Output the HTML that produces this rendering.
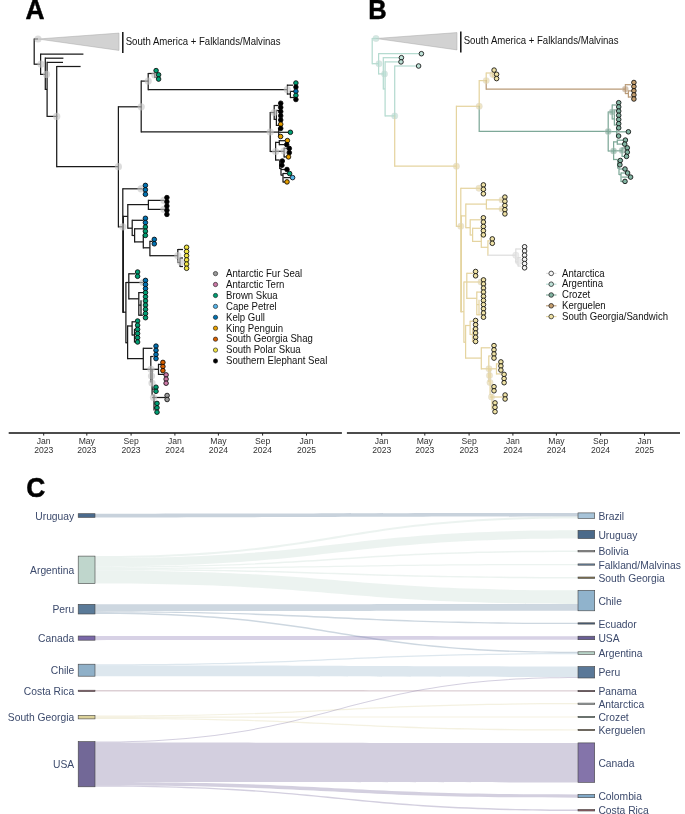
<!DOCTYPE html>
<html><head><meta charset="utf-8">
<style>
html,body{margin:0;padding:0;background:#fff;}
body{width:685px;height:814px;overflow:hidden;}
svg{display:block;will-change:transform;}
text{font-family:"Liberation Sans",sans-serif;}
.ax{font-size:8.6px;fill:#333;text-anchor:middle;}
.lg{font-size:9.6px;fill:#111;}
.sk{font-size:10.3px;fill:#3c4a6c;}
.pl{font-size:25.5px;font-weight:bold;fill:#000;stroke:#000;stroke-width:0.45px;}
.clade{font-size:9.6px;fill:#111;}
</style></head>
<body>
<svg width="685" height="814" viewBox="0 0 685 814">
<text transform="translate(25.6,18.7) scale(1.033,1.08)" class="pl">A</text>
<text transform="translate(368.15,18.7) scale(1.0,1.08)" class="pl">B</text>
<text transform="translate(26.3,497.0) scale(1.034,1.097)" class="pl">C</text>
<g stroke-linecap="butt">
<polygon points="38,39 119,33.1 119,50.4" fill="#d2d2d2" stroke="#a8a8a8" stroke-width="0.5"/>
<line x1="122.8" y1="32" x2="122.8" y2="53" stroke="#111" stroke-width="1.5"/>
<line x1="34.2" y1="38.38" x2="34.2" y2="64.82" stroke="#1a1a1a" stroke-width="1.25"/>
<line x1="34.2" y1="39.00" x2="38.0" y2="39.00" stroke="#1a1a1a" stroke-width="1.25"/>
<line x1="34.2" y1="64.20" x2="40.6" y2="64.20" stroke="#1a1a1a" stroke-width="1.25"/>
<line x1="40.6" y1="53.58" x2="40.6" y2="75.02" stroke="#1a1a1a" stroke-width="1.25"/>
<line x1="40.6" y1="54.20" x2="83.4" y2="54.20" stroke="#1a1a1a" stroke-width="1.25"/>
<line x1="40.6" y1="74.40" x2="45.3" y2="74.40" stroke="#1a1a1a" stroke-width="1.25"/>
<line x1="45.3" y1="57.58" x2="45.3" y2="90.02" stroke="#1a1a1a" stroke-width="1.25"/>
<line x1="45.3" y1="58.20" x2="63.4" y2="58.20" stroke="#1a1a1a" stroke-width="1.25"/>
<line x1="45.3" y1="89.40" x2="47.1" y2="89.40" stroke="#1a1a1a" stroke-width="1.25"/>
<line x1="47.1" y1="61.78" x2="47.1" y2="117.02" stroke="#1a1a1a" stroke-width="1.25"/>
<line x1="47.1" y1="62.40" x2="63.0" y2="62.40" stroke="#1a1a1a" stroke-width="1.25"/>
<line x1="47.1" y1="116.40" x2="56.7" y2="116.40" stroke="#1a1a1a" stroke-width="1.25"/>
<line x1="56.7" y1="65.88" x2="56.7" y2="117.02" stroke="#1a1a1a" stroke-width="1.25"/>
<line x1="56.7" y1="115.78" x2="56.7" y2="167.32" stroke="#1a1a1a" stroke-width="1.25"/>
<line x1="56.7" y1="66.50" x2="80.6" y2="66.50" stroke="#1a1a1a" stroke-width="1.25"/>
<line x1="56.7" y1="166.70" x2="118.4" y2="166.70" stroke="#1a1a1a" stroke-width="1.25"/>
<line x1="118.4" y1="106.18" x2="118.4" y2="167.32" stroke="#1a1a1a" stroke-width="1.25"/>
<line x1="118.4" y1="166.08" x2="118.4" y2="227.42" stroke="#1a1a1a" stroke-width="1.25"/>
<line x1="118.4" y1="106.80" x2="141.2" y2="106.80" stroke="#1a1a1a" stroke-width="1.25"/>
<line x1="118.4" y1="226.80" x2="122.8" y2="226.80" stroke="#1a1a1a" stroke-width="1.25"/>
<line x1="141.2" y1="80.48" x2="141.2" y2="107.42" stroke="#1a1a1a" stroke-width="1.25"/>
<line x1="141.2" y1="106.18" x2="141.2" y2="132.52" stroke="#1a1a1a" stroke-width="1.25"/>
<line x1="141.2" y1="81.10" x2="148.2" y2="81.10" stroke="#1a1a1a" stroke-width="1.25"/>
<line x1="141.2" y1="131.90" x2="270.1" y2="131.90" stroke="#1a1a1a" stroke-width="1.25"/>
<line x1="148.2" y1="72.88" x2="148.2" y2="81.72" stroke="#1a1a1a" stroke-width="1.25"/>
<line x1="148.2" y1="80.48" x2="148.2" y2="90.22" stroke="#1a1a1a" stroke-width="1.25"/>
<line x1="148.2" y1="73.50" x2="154.8" y2="73.50" stroke="#1a1a1a" stroke-width="1.25"/>
<line x1="148.2" y1="89.60" x2="287.3" y2="89.60" stroke="#1a1a1a" stroke-width="1.25"/>
<line x1="154.8" y1="72.88" x2="154.8" y2="77.92" stroke="#1a1a1a" stroke-width="1.25"/>
<line x1="154.8" y1="77.30" x2="157.0" y2="77.30" stroke="#1a1a1a" stroke-width="1.25"/>
<line x1="287.4" y1="84.58" x2="287.4" y2="94.62" stroke="#1a1a1a" stroke-width="1.25"/>
<line x1="287.4" y1="85.20" x2="293.0" y2="85.20" stroke="#1a1a1a" stroke-width="1.25"/>
<line x1="287.4" y1="94.00" x2="290.4" y2="94.00" stroke="#1a1a1a" stroke-width="1.25"/>
<line x1="290.4" y1="90.78" x2="290.4" y2="98.12" stroke="#1a1a1a" stroke-width="1.25"/>
<line x1="290.4" y1="91.40" x2="294.0" y2="91.40" stroke="#1a1a1a" stroke-width="1.25"/>
<line x1="290.4" y1="97.50" x2="294.0" y2="97.50" stroke="#1a1a1a" stroke-width="1.25"/>
<line x1="270.2" y1="111.88" x2="270.2" y2="152.12" stroke="#1a1a1a" stroke-width="1.25"/>
<line x1="270.2" y1="112.50" x2="274.2" y2="112.50" stroke="#1a1a1a" stroke-width="1.25"/>
<line x1="274.2" y1="104.88" x2="274.2" y2="120.02" stroke="#1a1a1a" stroke-width="1.25"/>
<line x1="274.2" y1="105.50" x2="278.5" y2="105.50" stroke="#1a1a1a" stroke-width="1.25"/>
<line x1="274.2" y1="119.40" x2="276.4" y2="119.40" stroke="#1a1a1a" stroke-width="1.25"/>
<line x1="276.4" y1="109.88" x2="276.4" y2="126.02" stroke="#1a1a1a" stroke-width="1.25"/>
<line x1="276.4" y1="110.50" x2="279.0" y2="110.50" stroke="#1a1a1a" stroke-width="1.25"/>
<line x1="276.4" y1="125.40" x2="279.0" y2="125.40" stroke="#1a1a1a" stroke-width="1.25"/>
<line x1="270.2" y1="132.10" x2="278.7" y2="132.10" stroke="#1a1a1a" stroke-width="1.25"/>
<line x1="278.7" y1="127.88" x2="278.7" y2="136.92" stroke="#1a1a1a" stroke-width="1.25"/>
<line x1="278.7" y1="132.30" x2="288.5" y2="132.30" stroke="#1a1a1a" stroke-width="1.25"/>
<line x1="270.2" y1="151.50" x2="275.6" y2="151.50" stroke="#1a1a1a" stroke-width="1.25"/>
<line x1="275.6" y1="141.78" x2="275.6" y2="160.62" stroke="#1a1a1a" stroke-width="1.25"/>
<line x1="275.6" y1="142.40" x2="279.3" y2="142.40" stroke="#1a1a1a" stroke-width="1.25"/>
<line x1="279.3" y1="140.08" x2="279.3" y2="145.22" stroke="#1a1a1a" stroke-width="1.25"/>
<line x1="279.3" y1="140.70" x2="285.0" y2="140.70" stroke="#1a1a1a" stroke-width="1.25"/>
<line x1="279.3" y1="144.60" x2="284.5" y2="144.60" stroke="#1a1a1a" stroke-width="1.25"/>
<line x1="275.6" y1="151.30" x2="284.1" y2="151.30" stroke="#1a1a1a" stroke-width="1.25"/>
<line x1="284.1" y1="147.78" x2="284.1" y2="157.52" stroke="#1a1a1a" stroke-width="1.25"/>
<line x1="284.1" y1="148.40" x2="287.0" y2="148.40" stroke="#1a1a1a" stroke-width="1.25"/>
<line x1="284.1" y1="156.90" x2="286.5" y2="156.90" stroke="#1a1a1a" stroke-width="1.25"/>
<line x1="275.6" y1="160.00" x2="279.7" y2="160.00" stroke="#1a1a1a" stroke-width="1.25"/>
<line x1="279.7" y1="160.38" x2="279.7" y2="169.12" stroke="#1a1a1a" stroke-width="1.25"/>
<line x1="279.7" y1="168.50" x2="281.0" y2="168.50" stroke="#1a1a1a" stroke-width="1.25"/>
<line x1="281.0" y1="167.88" x2="281.0" y2="175.62" stroke="#1a1a1a" stroke-width="1.25"/>
<line x1="281.0" y1="169.50" x2="285.0" y2="169.50" stroke="#1a1a1a" stroke-width="1.25"/>
<line x1="281.0" y1="175.00" x2="283.0" y2="175.00" stroke="#1a1a1a" stroke-width="1.25"/>
<line x1="283.0" y1="172.88" x2="283.0" y2="182.62" stroke="#1a1a1a" stroke-width="1.25"/>
<line x1="283.0" y1="173.50" x2="287.5" y2="173.50" stroke="#1a1a1a" stroke-width="1.25"/>
<line x1="283.5" y1="177.60" x2="290.5" y2="177.60" stroke="#1a1a1a" stroke-width="1.25"/>
<line x1="283.0" y1="182.00" x2="285.5" y2="182.00" stroke="#1a1a1a" stroke-width="1.25"/>
<line x1="122.8" y1="188.18" x2="122.8" y2="312.82" stroke="#1a1a1a" stroke-width="1.25"/>
<line x1="123.4" y1="215.78" x2="123.4" y2="312.82" stroke="#1a1a1a" stroke-width="1.25"/>
<line x1="122.8" y1="188.80" x2="142.6" y2="188.80" stroke="#1a1a1a" stroke-width="1.25"/>
<line x1="122.8" y1="216.40" x2="127.8" y2="216.40" stroke="#1a1a1a" stroke-width="1.25"/>
<line x1="127.8" y1="203.98" x2="127.8" y2="228.82" stroke="#1a1a1a" stroke-width="1.25"/>
<line x1="127.8" y1="204.60" x2="148.4" y2="204.60" stroke="#1a1a1a" stroke-width="1.25"/>
<line x1="148.4" y1="199.78" x2="148.4" y2="210.02" stroke="#1a1a1a" stroke-width="1.25"/>
<line x1="148.4" y1="200.40" x2="164.5" y2="200.40" stroke="#1a1a1a" stroke-width="1.25"/>
<line x1="148.4" y1="209.40" x2="164.5" y2="209.40" stroke="#1a1a1a" stroke-width="1.25"/>
<line x1="127.8" y1="228.20" x2="132.2" y2="228.20" stroke="#1a1a1a" stroke-width="1.25"/>
<line x1="132.2" y1="219.68" x2="132.2" y2="236.12" stroke="#1a1a1a" stroke-width="1.25"/>
<line x1="132.2" y1="220.30" x2="143.5" y2="220.30" stroke="#1a1a1a" stroke-width="1.25"/>
<line x1="132.2" y1="235.50" x2="134.6" y2="235.50" stroke="#1a1a1a" stroke-width="1.25"/>
<line x1="134.6" y1="228.18" x2="134.6" y2="242.52" stroke="#1a1a1a" stroke-width="1.25"/>
<line x1="134.6" y1="228.80" x2="143.5" y2="228.80" stroke="#1a1a1a" stroke-width="1.25"/>
<line x1="134.6" y1="241.90" x2="143.3" y2="241.90" stroke="#1a1a1a" stroke-width="1.25"/>
<line x1="143.3" y1="234.38" x2="143.3" y2="248.42" stroke="#1a1a1a" stroke-width="1.25"/>
<line x1="143.3" y1="247.80" x2="149.9" y2="247.80" stroke="#1a1a1a" stroke-width="1.25"/>
<line x1="149.9" y1="240.78" x2="149.9" y2="256.32" stroke="#1a1a1a" stroke-width="1.25"/>
<line x1="149.9" y1="241.40" x2="152.5" y2="241.40" stroke="#1a1a1a" stroke-width="1.25"/>
<line x1="149.9" y1="255.70" x2="177.8" y2="255.70" stroke="#1a1a1a" stroke-width="1.25"/>
<line x1="177.8" y1="248.88" x2="177.8" y2="263.12" stroke="#1a1a1a" stroke-width="1.25"/>
<line x1="177.8" y1="249.50" x2="183.0" y2="249.50" stroke="#1a1a1a" stroke-width="1.25"/>
<line x1="177.8" y1="262.50" x2="180.0" y2="262.50" stroke="#1a1a1a" stroke-width="1.25"/>
<line x1="180.0" y1="257.38" x2="180.0" y2="267.12" stroke="#1a1a1a" stroke-width="1.25"/>
<line x1="180.0" y1="258.00" x2="183.0" y2="258.00" stroke="#1a1a1a" stroke-width="1.25"/>
<line x1="180.0" y1="266.50" x2="183.0" y2="266.50" stroke="#1a1a1a" stroke-width="1.25"/>
<line x1="122.8" y1="312.20" x2="125.9" y2="312.20" stroke="#1a1a1a" stroke-width="1.25"/>
<line x1="125.9" y1="281.88" x2="125.9" y2="343.32" stroke="#1a1a1a" stroke-width="1.25"/>
<line x1="125.9" y1="282.50" x2="128.8" y2="282.50" stroke="#1a1a1a" stroke-width="1.25"/>
<line x1="128.8" y1="273.18" x2="128.8" y2="299.42" stroke="#1a1a1a" stroke-width="1.25"/>
<line x1="128.8" y1="273.80" x2="135.2" y2="273.80" stroke="#1a1a1a" stroke-width="1.25"/>
<line x1="128.8" y1="282.50" x2="143.0" y2="282.50" stroke="#1a1a1a" stroke-width="1.25"/>
<line x1="128.8" y1="298.80" x2="138.8" y2="298.80" stroke="#1a1a1a" stroke-width="1.25"/>
<line x1="138.8" y1="291.98" x2="138.8" y2="315.82" stroke="#1a1a1a" stroke-width="1.25"/>
<line x1="138.8" y1="292.60" x2="143.5" y2="292.60" stroke="#1a1a1a" stroke-width="1.25"/>
<line x1="138.8" y1="305.10" x2="141.0" y2="305.10" stroke="#1a1a1a" stroke-width="1.25"/>
<line x1="141.0" y1="300.28" x2="141.0" y2="315.82" stroke="#1a1a1a" stroke-width="1.25"/>
<line x1="138.8" y1="315.20" x2="143.0" y2="315.20" stroke="#1a1a1a" stroke-width="1.25"/>
<line x1="125.9" y1="342.70" x2="127.6" y2="342.70" stroke="#1a1a1a" stroke-width="1.25"/>
<line x1="127.6" y1="325.38" x2="127.6" y2="359.22" stroke="#1a1a1a" stroke-width="1.25"/>
<line x1="127.6" y1="326.00" x2="132.1" y2="326.00" stroke="#1a1a1a" stroke-width="1.25"/>
<line x1="132.1" y1="321.18" x2="132.1" y2="335.62" stroke="#1a1a1a" stroke-width="1.25"/>
<line x1="132.1" y1="321.80" x2="135.0" y2="321.80" stroke="#1a1a1a" stroke-width="1.25"/>
<line x1="132.1" y1="335.00" x2="134.5" y2="335.00" stroke="#1a1a1a" stroke-width="1.25"/>
<line x1="134.5" y1="328.78" x2="134.5" y2="342.62" stroke="#1a1a1a" stroke-width="1.25"/>
<line x1="127.6" y1="358.60" x2="143.3" y2="358.60" stroke="#1a1a1a" stroke-width="1.25"/>
<line x1="143.3" y1="347.68" x2="143.3" y2="369.92" stroke="#1a1a1a" stroke-width="1.25"/>
<line x1="143.3" y1="348.30" x2="152.5" y2="348.30" stroke="#1a1a1a" stroke-width="1.25"/>
<line x1="150.8" y1="356.50" x2="153.5" y2="356.50" stroke="#1a1a1a" stroke-width="1.25"/>
<line x1="150.8" y1="355.88" x2="150.8" y2="382.62" stroke="#1a1a1a" stroke-width="1.25"/>
<line x1="143.3" y1="369.30" x2="158.5" y2="369.30" stroke="#1a1a1a" stroke-width="1.25"/>
<line x1="158.5" y1="363.78" x2="158.5" y2="375.02" stroke="#1a1a1a" stroke-width="1.25"/>
<line x1="158.5" y1="364.40" x2="161.0" y2="364.40" stroke="#1a1a1a" stroke-width="1.25"/>
<line x1="158.5" y1="374.40" x2="164.0" y2="374.40" stroke="#1a1a1a" stroke-width="1.25"/>
<line x1="152.1" y1="368.88" x2="152.1" y2="395.62" stroke="#1a1a1a" stroke-width="1.25"/>
<line x1="152.1" y1="389.00" x2="154.0" y2="389.00" stroke="#1a1a1a" stroke-width="1.25"/>
<line x1="152.1" y1="397.50" x2="165.0" y2="397.50" stroke="#1a1a1a" stroke-width="1.25"/>
<line x1="154.0" y1="394.38" x2="154.0" y2="410.62" stroke="#1a1a1a" stroke-width="1.25"/>
<line x1="154.0" y1="407.80" x2="155.0" y2="407.80" stroke="#1a1a1a" stroke-width="1.25"/>
<circle cx="38.0" cy="39.0" r="3.6" fill="#c4c4c4" fill-opacity="0.6"/>
<circle cx="41.0" cy="64.2" r="3.6" fill="#c4c4c4" fill-opacity="0.6"/>
<circle cx="46.5" cy="74.4" r="3.6" fill="#c4c4c4" fill-opacity="0.6"/>
<circle cx="56.7" cy="116.4" r="3.6" fill="#c4c4c4" fill-opacity="0.6"/>
<circle cx="118.4" cy="166.7" r="3.6" fill="#c4c4c4" fill-opacity="0.6"/>
<circle cx="141.2" cy="106.8" r="3.6" fill="#c4c4c4" fill-opacity="0.6"/>
<circle cx="148.2" cy="81.1" r="3.6" fill="#c4c4c4" fill-opacity="0.6"/>
<circle cx="154.8" cy="75.0" r="3.6" fill="#c4c4c4" fill-opacity="0.6"/>
<circle cx="287.3" cy="89.6" r="3.6" fill="#c4c4c4" fill-opacity="0.6"/>
<circle cx="270.2" cy="132.0" r="3.6" fill="#c4c4c4" fill-opacity="0.6"/>
<circle cx="274.2" cy="112.5" r="3.6" fill="#c4c4c4" fill-opacity="0.6"/>
<circle cx="275.6" cy="151.5" r="3.6" fill="#c4c4c4" fill-opacity="0.6"/>
<circle cx="284.1" cy="151.0" r="3.6" fill="#c4c4c4" fill-opacity="0.6"/>
<circle cx="122.8" cy="226.8" r="3.6" fill="#c4c4c4" fill-opacity="0.6"/>
<circle cx="141.0" cy="188.8" r="3.6" fill="#c4c4c4" fill-opacity="0.6"/>
<circle cx="164.0" cy="209.4" r="3.6" fill="#c4c4c4" fill-opacity="0.6"/>
<circle cx="164.0" cy="200.4" r="3.6" fill="#c4c4c4" fill-opacity="0.6"/>
<circle cx="177.8" cy="255.7" r="3.6" fill="#c4c4c4" fill-opacity="0.6"/>
<circle cx="180.5" cy="262.0" r="3.6" fill="#c4c4c4" fill-opacity="0.6"/>
<circle cx="143.0" cy="282.5" r="3.6" fill="#c4c4c4" fill-opacity="0.6"/>
<circle cx="151.0" cy="369.3" r="3.6" fill="#c4c4c4" fill-opacity="0.6"/>
<circle cx="151.5" cy="376.0" r="3.6" fill="#c4c4c4" fill-opacity="0.6"/>
<circle cx="152.0" cy="383.0" r="3.6" fill="#c4c4c4" fill-opacity="0.6"/>
<circle cx="153.5" cy="397.5" r="3.6" fill="#c4c4c4" fill-opacity="0.6"/>
<circle cx="156.1" cy="70.6" r="2.3" fill="#009e73" stroke="#000" stroke-width="0.8"/>
<circle cx="158.6" cy="74.8" r="2.3" fill="#009e73" stroke="#000" stroke-width="0.8"/>
<circle cx="158.6" cy="79.1" r="2.3" fill="#009e73" stroke="#000" stroke-width="0.8"/>
<circle cx="295.9" cy="83.0" r="2.3" fill="#009e73" stroke="#000" stroke-width="0.8"/>
<circle cx="295.9" cy="87.1" r="2.3" fill="#000000" stroke="#000" stroke-width="0.8"/>
<circle cx="295.9" cy="91.3" r="2.3" fill="#0072b2" stroke="#000" stroke-width="0.8"/>
<circle cx="295.9" cy="95.4" r="2.3" fill="#009e73" stroke="#000" stroke-width="0.8"/>
<circle cx="295.9" cy="99.5" r="2.3" fill="#000000" stroke="#000" stroke-width="0.8"/>
<circle cx="280.7" cy="103.2" r="2.3" fill="#000000" stroke="#000" stroke-width="0.8"/>
<circle cx="280.7" cy="107.4" r="2.3" fill="#000000" stroke="#000" stroke-width="0.8"/>
<circle cx="280.7" cy="111.6" r="2.3" fill="#000000" stroke="#000" stroke-width="0.8"/>
<circle cx="280.7" cy="115.8" r="2.3" fill="#000000" stroke="#000" stroke-width="0.8"/>
<circle cx="280.7" cy="120.0" r="2.3" fill="#000000" stroke="#000" stroke-width="0.8"/>
<circle cx="280.7" cy="124.2" r="2.3" fill="#e69f00" stroke="#000" stroke-width="0.8"/>
<circle cx="280.7" cy="128.4" r="2.3" fill="#000000" stroke="#000" stroke-width="0.8"/>
<circle cx="290.4" cy="132.3" r="2.3" fill="#009e73" stroke="#000" stroke-width="0.8"/>
<circle cx="280.6" cy="136.5" r="2.3" fill="#e69f00" stroke="#000" stroke-width="0.8"/>
<circle cx="287.4" cy="140.6" r="2.3" fill="#e69f00" stroke="#000" stroke-width="0.8"/>
<circle cx="286.7" cy="144.6" r="2.3" fill="#000000" stroke="#000" stroke-width="0.8"/>
<circle cx="289.3" cy="148.4" r="2.3" fill="#000000" stroke="#000" stroke-width="0.8"/>
<circle cx="289.3" cy="152.7" r="2.3" fill="#000000" stroke="#000" stroke-width="0.8"/>
<circle cx="288.5" cy="156.9" r="2.3" fill="#e69f00" stroke="#000" stroke-width="0.8"/>
<circle cx="282.3" cy="161.0" r="2.3" fill="#000000" stroke="#000" stroke-width="0.8"/>
<circle cx="281.9" cy="165.3" r="2.3" fill="#000000" stroke="#000" stroke-width="0.8"/>
<circle cx="287.0" cy="169.5" r="2.3" fill="#000000" stroke="#000" stroke-width="0.8"/>
<circle cx="289.6" cy="173.5" r="2.3" fill="#009e73" stroke="#000" stroke-width="0.8"/>
<circle cx="292.6" cy="177.6" r="2.3" fill="#56b4e9" stroke="#000" stroke-width="0.8"/>
<circle cx="287.0" cy="181.9" r="2.3" fill="#e69f00" stroke="#000" stroke-width="0.8"/>
<circle cx="145.4" cy="185.4" r="2.3" fill="#0072b2" stroke="#000" stroke-width="0.8"/>
<circle cx="145.4" cy="189.8" r="2.3" fill="#0072b2" stroke="#000" stroke-width="0.8"/>
<circle cx="145.4" cy="194.3" r="2.3" fill="#0072b2" stroke="#000" stroke-width="0.8"/>
<circle cx="166.9" cy="197.6" r="2.3" fill="#000000" stroke="#000" stroke-width="0.8"/>
<circle cx="166.9" cy="201.8" r="2.3" fill="#000000" stroke="#000" stroke-width="0.8"/>
<circle cx="166.9" cy="206.0" r="2.3" fill="#000000" stroke="#000" stroke-width="0.8"/>
<circle cx="166.9" cy="210.2" r="2.3" fill="#000000" stroke="#000" stroke-width="0.8"/>
<circle cx="166.9" cy="214.4" r="2.3" fill="#000000" stroke="#000" stroke-width="0.8"/>
<circle cx="145.4" cy="218.3" r="2.3" fill="#0072b2" stroke="#000" stroke-width="0.8"/>
<circle cx="145.4" cy="222.6" r="2.3" fill="#0072b2" stroke="#000" stroke-width="0.8"/>
<circle cx="145.4" cy="227.0" r="2.3" fill="#009e73" stroke="#000" stroke-width="0.8"/>
<circle cx="145.4" cy="231.2" r="2.3" fill="#009e73" stroke="#000" stroke-width="0.8"/>
<circle cx="145.4" cy="235.4" r="2.3" fill="#009e73" stroke="#000" stroke-width="0.8"/>
<circle cx="154.3" cy="239.4" r="2.3" fill="#0072b2" stroke="#000" stroke-width="0.8"/>
<circle cx="154.3" cy="243.8" r="2.3" fill="#0072b2" stroke="#000" stroke-width="0.8"/>
<circle cx="186.6" cy="247.3" r="2.3" fill="#f0e442" stroke="#000" stroke-width="0.8"/>
<circle cx="186.6" cy="251.5" r="2.3" fill="#f0e442" stroke="#000" stroke-width="0.8"/>
<circle cx="186.6" cy="255.7" r="2.3" fill="#f0e442" stroke="#000" stroke-width="0.8"/>
<circle cx="186.6" cy="259.9" r="2.3" fill="#f0e442" stroke="#000" stroke-width="0.8"/>
<circle cx="186.6" cy="264.1" r="2.3" fill="#f0e442" stroke="#000" stroke-width="0.8"/>
<circle cx="186.6" cy="268.3" r="2.3" fill="#f0e442" stroke="#000" stroke-width="0.8"/>
<circle cx="137.6" cy="272.0" r="2.3" fill="#009e73" stroke="#000" stroke-width="0.8"/>
<circle cx="137.6" cy="276.3" r="2.3" fill="#009e73" stroke="#000" stroke-width="0.8"/>
<circle cx="145.5" cy="280.4" r="2.3" fill="#0072b2" stroke="#000" stroke-width="0.8"/>
<circle cx="145.5" cy="284.5" r="2.3" fill="#0072b2" stroke="#000" stroke-width="0.8"/>
<circle cx="145.5" cy="288.6" r="2.3" fill="#0072b2" stroke="#000" stroke-width="0.8"/>
<circle cx="145.5" cy="292.6" r="2.3" fill="#009e73" stroke="#000" stroke-width="0.8"/>
<circle cx="145.5" cy="296.8" r="2.3" fill="#009e73" stroke="#000" stroke-width="0.8"/>
<circle cx="145.5" cy="300.9" r="2.3" fill="#009e73" stroke="#000" stroke-width="0.8"/>
<circle cx="145.5" cy="305.1" r="2.3" fill="#009e73" stroke="#000" stroke-width="0.8"/>
<circle cx="145.5" cy="309.3" r="2.3" fill="#009e73" stroke="#000" stroke-width="0.8"/>
<circle cx="145.5" cy="313.5" r="2.3" fill="#009e73" stroke="#000" stroke-width="0.8"/>
<circle cx="145.5" cy="317.7" r="2.3" fill="#009e73" stroke="#000" stroke-width="0.8"/>
<circle cx="137.6" cy="321.0" r="2.3" fill="#009e73" stroke="#000" stroke-width="0.8"/>
<circle cx="137.6" cy="325.2" r="2.3" fill="#009e73" stroke="#000" stroke-width="0.8"/>
<circle cx="137.6" cy="329.4" r="2.3" fill="#009e73" stroke="#000" stroke-width="0.8"/>
<circle cx="137.6" cy="333.5" r="2.3" fill="#009e73" stroke="#000" stroke-width="0.8"/>
<circle cx="137.6" cy="337.7" r="2.3" fill="#009e73" stroke="#000" stroke-width="0.8"/>
<circle cx="137.6" cy="342.0" r="2.3" fill="#009e73" stroke="#000" stroke-width="0.8"/>
<circle cx="156.0" cy="346.1" r="2.3" fill="#0072b2" stroke="#000" stroke-width="0.8"/>
<circle cx="156.0" cy="350.3" r="2.3" fill="#0072b2" stroke="#000" stroke-width="0.8"/>
<circle cx="156.0" cy="354.5" r="2.3" fill="#0072b2" stroke="#000" stroke-width="0.8"/>
<circle cx="156.0" cy="358.6" r="2.3" fill="#0072b2" stroke="#000" stroke-width="0.8"/>
<circle cx="162.9" cy="362.4" r="2.3" fill="#d55e00" stroke="#000" stroke-width="0.8"/>
<circle cx="162.9" cy="366.5" r="2.3" fill="#d55e00" stroke="#000" stroke-width="0.8"/>
<circle cx="162.9" cy="370.6" r="2.3" fill="#d55e00" stroke="#000" stroke-width="0.8"/>
<circle cx="166.1" cy="374.9" r="2.3" fill="#cc79a7" stroke="#000" stroke-width="0.8"/>
<circle cx="166.1" cy="379.1" r="2.3" fill="#cc79a7" stroke="#000" stroke-width="0.8"/>
<circle cx="166.1" cy="383.2" r="2.3" fill="#cc79a7" stroke="#000" stroke-width="0.8"/>
<circle cx="156.0" cy="387.2" r="2.3" fill="#009e73" stroke="#000" stroke-width="0.8"/>
<circle cx="156.0" cy="391.3" r="2.3" fill="#009e73" stroke="#000" stroke-width="0.8"/>
<circle cx="167.1" cy="395.5" r="2.3" fill="#9a9a9a" stroke="#000" stroke-width="0.8"/>
<circle cx="167.1" cy="399.5" r="2.3" fill="#9a9a9a" stroke="#000" stroke-width="0.8"/>
<circle cx="157.0" cy="403.4" r="2.3" fill="#009e73" stroke="#000" stroke-width="0.8"/>
<circle cx="157.0" cy="407.8" r="2.3" fill="#009e73" stroke="#000" stroke-width="0.8"/>
<circle cx="157.0" cy="412.2" r="2.3" fill="#009e73" stroke="#000" stroke-width="0.8"/>
<g transform="translate(0,-0.5)">
<polygon points="376.0,39 457.0,33.1 457.0,50.4" fill="#d2d2d2" stroke="#a8a8a8" stroke-width="0.5"/>
<line x1="460.8" y1="32" x2="460.8" y2="53" stroke="#111" stroke-width="1.5"/>
<line x1="372.2" y1="38.38" x2="372.2" y2="64.82" stroke="#b5dbd0" stroke-width="1.25"/>
<line x1="372.2" y1="39.00" x2="376.0" y2="39.00" stroke="#b5dbd0" stroke-width="1.25"/>
<line x1="372.2" y1="64.20" x2="378.6" y2="64.20" stroke="#b5dbd0" stroke-width="1.25"/>
<line x1="378.6" y1="53.58" x2="378.6" y2="75.02" stroke="#b5dbd0" stroke-width="1.25"/>
<line x1="378.6" y1="54.20" x2="421.4" y2="54.20" stroke="#b5dbd0" stroke-width="1.25"/>
<line x1="378.6" y1="74.40" x2="383.3" y2="74.40" stroke="#b5dbd0" stroke-width="1.25"/>
<line x1="383.3" y1="57.58" x2="383.3" y2="90.02" stroke="#b5dbd0" stroke-width="1.25"/>
<line x1="383.3" y1="58.20" x2="401.4" y2="58.20" stroke="#b5dbd0" stroke-width="1.25"/>
<line x1="383.3" y1="89.40" x2="385.1" y2="89.40" stroke="#b5dbd0" stroke-width="1.25"/>
<line x1="385.1" y1="61.78" x2="385.1" y2="117.02" stroke="#b5dbd0" stroke-width="1.25"/>
<line x1="385.1" y1="62.40" x2="401.0" y2="62.40" stroke="#b5dbd0" stroke-width="1.25"/>
<line x1="385.1" y1="116.40" x2="394.7" y2="116.40" stroke="#b5dbd0" stroke-width="1.25"/>
<line x1="394.7" y1="65.88" x2="394.7" y2="117.02" stroke="#b5dbd0" stroke-width="1.25"/>
<line x1="394.7" y1="115.78" x2="394.7" y2="167.32" stroke="#e5d4a0" stroke-width="1.25"/>
<line x1="394.7" y1="66.50" x2="418.6" y2="66.50" stroke="#b5dbd0" stroke-width="1.25"/>
<line x1="394.7" y1="166.70" x2="456.4" y2="166.70" stroke="#e5d4a0" stroke-width="1.25"/>
<line x1="456.4" y1="106.18" x2="456.4" y2="167.32" stroke="#e5d4a0" stroke-width="1.25"/>
<line x1="456.4" y1="166.08" x2="456.4" y2="227.42" stroke="#e5d4a0" stroke-width="1.25"/>
<line x1="456.4" y1="106.80" x2="479.2" y2="106.80" stroke="#e5d4a0" stroke-width="1.25"/>
<line x1="456.4" y1="226.80" x2="460.8" y2="226.80" stroke="#e5d4a0" stroke-width="1.25"/>
<line x1="479.2" y1="80.48" x2="479.2" y2="107.42" stroke="#e5d4a0" stroke-width="1.25"/>
<line x1="479.2" y1="106.18" x2="479.2" y2="132.52" stroke="#7ea898" stroke-width="1.25"/>
<line x1="479.2" y1="81.10" x2="486.2" y2="81.10" stroke="#e5d4a0" stroke-width="1.25"/>
<line x1="479.2" y1="131.90" x2="608.1" y2="131.90" stroke="#7ea898" stroke-width="1.25"/>
<line x1="486.2" y1="72.88" x2="486.2" y2="81.72" stroke="#e5d4a0" stroke-width="1.25"/>
<line x1="486.2" y1="80.48" x2="486.2" y2="90.22" stroke="#b99a76" stroke-width="1.25"/>
<line x1="486.2" y1="73.50" x2="492.8" y2="73.50" stroke="#e5d4a0" stroke-width="1.25"/>
<line x1="486.2" y1="89.60" x2="625.3" y2="89.60" stroke="#b99a76" stroke-width="1.25"/>
<line x1="492.8" y1="72.88" x2="492.8" y2="77.92" stroke="#e5d4a0" stroke-width="1.25"/>
<line x1="492.8" y1="77.30" x2="495.0" y2="77.30" stroke="#e5d4a0" stroke-width="1.25"/>
<line x1="625.4" y1="84.58" x2="625.4" y2="94.62" stroke="#b99a76" stroke-width="1.25"/>
<line x1="625.4" y1="85.20" x2="631.0" y2="85.20" stroke="#b99a76" stroke-width="1.25"/>
<line x1="625.4" y1="94.00" x2="628.4" y2="94.00" stroke="#b99a76" stroke-width="1.25"/>
<line x1="628.4" y1="90.78" x2="628.4" y2="98.12" stroke="#b99a76" stroke-width="1.25"/>
<line x1="628.4" y1="91.40" x2="632.0" y2="91.40" stroke="#b99a76" stroke-width="1.25"/>
<line x1="628.4" y1="97.50" x2="632.0" y2="97.50" stroke="#b99a76" stroke-width="1.25"/>
<line x1="608.2" y1="111.88" x2="608.2" y2="152.12" stroke="#7ea898" stroke-width="1.25"/>
<line x1="608.2" y1="112.50" x2="612.2" y2="112.50" stroke="#7ea898" stroke-width="1.25"/>
<line x1="612.2" y1="104.88" x2="612.2" y2="120.02" stroke="#7ea898" stroke-width="1.25"/>
<line x1="612.2" y1="105.50" x2="616.5" y2="105.50" stroke="#7ea898" stroke-width="1.25"/>
<line x1="612.2" y1="119.40" x2="614.4" y2="119.40" stroke="#7ea898" stroke-width="1.25"/>
<line x1="614.4" y1="109.88" x2="614.4" y2="126.02" stroke="#7ea898" stroke-width="1.25"/>
<line x1="614.4" y1="110.50" x2="617.0" y2="110.50" stroke="#7ea898" stroke-width="1.25"/>
<line x1="614.4" y1="125.40" x2="617.0" y2="125.40" stroke="#7ea898" stroke-width="1.25"/>
<line x1="608.2" y1="132.10" x2="616.7" y2="132.10" stroke="#7ea898" stroke-width="1.25"/>
<line x1="616.7" y1="127.88" x2="616.7" y2="136.92" stroke="#7ea898" stroke-width="1.25"/>
<line x1="616.7" y1="132.30" x2="626.5" y2="132.30" stroke="#7ea898" stroke-width="1.25"/>
<line x1="608.2" y1="151.50" x2="613.6" y2="151.50" stroke="#7ea898" stroke-width="1.25"/>
<line x1="613.6" y1="141.78" x2="613.6" y2="160.62" stroke="#7ea898" stroke-width="1.25"/>
<line x1="613.6" y1="142.40" x2="617.3" y2="142.40" stroke="#7ea898" stroke-width="1.25"/>
<line x1="617.3" y1="140.08" x2="617.3" y2="145.22" stroke="#7ea898" stroke-width="1.25"/>
<line x1="617.3" y1="140.70" x2="623.0" y2="140.70" stroke="#7ea898" stroke-width="1.25"/>
<line x1="617.3" y1="144.60" x2="622.5" y2="144.60" stroke="#7ea898" stroke-width="1.25"/>
<line x1="613.6" y1="151.30" x2="622.1" y2="151.30" stroke="#7ea898" stroke-width="1.25"/>
<line x1="622.1" y1="147.78" x2="622.1" y2="157.52" stroke="#7ea898" stroke-width="1.25"/>
<line x1="622.1" y1="148.40" x2="625.0" y2="148.40" stroke="#7ea898" stroke-width="1.25"/>
<line x1="622.1" y1="156.90" x2="624.5" y2="156.90" stroke="#7ea898" stroke-width="1.25"/>
<line x1="613.6" y1="160.00" x2="617.7" y2="160.00" stroke="#7ea898" stroke-width="1.25"/>
<line x1="617.7" y1="160.38" x2="617.7" y2="169.12" stroke="#7ea898" stroke-width="1.25"/>
<line x1="617.7" y1="168.50" x2="619.0" y2="168.50" stroke="#7ea898" stroke-width="1.25"/>
<line x1="619.0" y1="167.88" x2="619.0" y2="175.62" stroke="#7ea898" stroke-width="1.25"/>
<line x1="619.0" y1="169.50" x2="623.0" y2="169.50" stroke="#7ea898" stroke-width="1.25"/>
<line x1="619.0" y1="175.00" x2="621.0" y2="175.00" stroke="#7ea898" stroke-width="1.25"/>
<line x1="621.0" y1="172.88" x2="621.0" y2="182.62" stroke="#7ea898" stroke-width="1.25"/>
<line x1="621.0" y1="173.50" x2="625.5" y2="173.50" stroke="#7ea898" stroke-width="1.25"/>
<line x1="621.5" y1="177.60" x2="628.5" y2="177.60" stroke="#7ea898" stroke-width="1.25"/>
<line x1="621.0" y1="182.00" x2="623.5" y2="182.00" stroke="#7ea898" stroke-width="1.25"/>
<line x1="460.8" y1="188.18" x2="460.8" y2="312.82" stroke="#e5d4a0" stroke-width="1.25"/>
<line x1="461.4" y1="215.78" x2="461.4" y2="312.82" stroke="#e5d4a0" stroke-width="1.25"/>
<line x1="460.8" y1="188.80" x2="480.6" y2="188.80" stroke="#e5d4a0" stroke-width="1.25"/>
<line x1="460.8" y1="216.40" x2="465.8" y2="216.40" stroke="#e5d4a0" stroke-width="1.25"/>
<line x1="465.8" y1="203.98" x2="465.8" y2="228.82" stroke="#e5d4a0" stroke-width="1.25"/>
<line x1="465.8" y1="204.60" x2="486.4" y2="204.60" stroke="#e5d4a0" stroke-width="1.25"/>
<line x1="486.4" y1="199.78" x2="486.4" y2="210.02" stroke="#e5d4a0" stroke-width="1.25"/>
<line x1="486.4" y1="200.40" x2="502.5" y2="200.40" stroke="#e5d4a0" stroke-width="1.25"/>
<line x1="486.4" y1="209.40" x2="502.5" y2="209.40" stroke="#e5d4a0" stroke-width="1.25"/>
<line x1="465.8" y1="228.20" x2="470.2" y2="228.20" stroke="#e5d4a0" stroke-width="1.25"/>
<line x1="470.2" y1="219.68" x2="470.2" y2="236.12" stroke="#e5d4a0" stroke-width="1.25"/>
<line x1="470.2" y1="220.30" x2="481.5" y2="220.30" stroke="#e5d4a0" stroke-width="1.25"/>
<line x1="470.2" y1="235.50" x2="472.6" y2="235.50" stroke="#e5d4a0" stroke-width="1.25"/>
<line x1="472.6" y1="228.18" x2="472.6" y2="242.52" stroke="#e5d4a0" stroke-width="1.25"/>
<line x1="472.6" y1="228.80" x2="481.5" y2="228.80" stroke="#e5d4a0" stroke-width="1.25"/>
<line x1="472.6" y1="241.90" x2="481.3" y2="241.90" stroke="#e5d4a0" stroke-width="1.25"/>
<line x1="481.3" y1="234.38" x2="481.3" y2="248.42" stroke="#e5d4a0" stroke-width="1.25"/>
<line x1="481.3" y1="247.80" x2="487.9" y2="247.80" stroke="#e5d4a0" stroke-width="1.25"/>
<line x1="487.9" y1="240.78" x2="487.9" y2="256.32" stroke="#e5d4a0" stroke-width="1.25"/>
<line x1="487.9" y1="241.40" x2="490.5" y2="241.40" stroke="#e5d4a0" stroke-width="1.25"/>
<line x1="487.9" y1="255.70" x2="515.8" y2="255.70" stroke="#dedede" stroke-width="1.25"/>
<line x1="515.8" y1="248.88" x2="515.8" y2="263.12" stroke="#dedede" stroke-width="1.25"/>
<line x1="515.8" y1="249.50" x2="521.0" y2="249.50" stroke="#dedede" stroke-width="1.25"/>
<line x1="515.8" y1="262.50" x2="518.0" y2="262.50" stroke="#dedede" stroke-width="1.25"/>
<line x1="518.0" y1="257.38" x2="518.0" y2="267.12" stroke="#dedede" stroke-width="1.25"/>
<line x1="518.0" y1="258.00" x2="521.0" y2="258.00" stroke="#dedede" stroke-width="1.25"/>
<line x1="518.0" y1="266.50" x2="521.0" y2="266.50" stroke="#dedede" stroke-width="1.25"/>
<line x1="460.8" y1="312.20" x2="463.9" y2="312.20" stroke="#e5d4a0" stroke-width="1.25"/>
<line x1="463.9" y1="281.88" x2="463.9" y2="343.32" stroke="#e5d4a0" stroke-width="1.25"/>
<line x1="463.9" y1="282.50" x2="466.8" y2="282.50" stroke="#e5d4a0" stroke-width="1.25"/>
<line x1="466.8" y1="273.18" x2="466.8" y2="299.42" stroke="#e5d4a0" stroke-width="1.25"/>
<line x1="466.8" y1="273.80" x2="473.2" y2="273.80" stroke="#e5d4a0" stroke-width="1.25"/>
<line x1="466.8" y1="282.50" x2="481.0" y2="282.50" stroke="#e5d4a0" stroke-width="1.25"/>
<line x1="466.8" y1="298.80" x2="476.8" y2="298.80" stroke="#e5d4a0" stroke-width="1.25"/>
<line x1="476.8" y1="291.98" x2="476.8" y2="315.82" stroke="#e5d4a0" stroke-width="1.25"/>
<line x1="476.8" y1="292.60" x2="481.5" y2="292.60" stroke="#e5d4a0" stroke-width="1.25"/>
<line x1="476.8" y1="305.10" x2="479.0" y2="305.10" stroke="#e5d4a0" stroke-width="1.25"/>
<line x1="479.0" y1="300.28" x2="479.0" y2="315.82" stroke="#e5d4a0" stroke-width="1.25"/>
<line x1="476.8" y1="315.20" x2="481.0" y2="315.20" stroke="#e5d4a0" stroke-width="1.25"/>
<line x1="463.9" y1="342.70" x2="465.6" y2="342.70" stroke="#e5d4a0" stroke-width="1.25"/>
<line x1="465.6" y1="325.38" x2="465.6" y2="359.22" stroke="#e5d4a0" stroke-width="1.25"/>
<line x1="465.6" y1="326.00" x2="470.1" y2="326.00" stroke="#e5d4a0" stroke-width="1.25"/>
<line x1="470.1" y1="321.18" x2="470.1" y2="335.62" stroke="#e5d4a0" stroke-width="1.25"/>
<line x1="470.1" y1="321.80" x2="473.0" y2="321.80" stroke="#e5d4a0" stroke-width="1.25"/>
<line x1="470.1" y1="335.00" x2="472.5" y2="335.00" stroke="#e5d4a0" stroke-width="1.25"/>
<line x1="472.5" y1="328.78" x2="472.5" y2="342.62" stroke="#e5d4a0" stroke-width="1.25"/>
<line x1="465.6" y1="358.60" x2="481.3" y2="358.60" stroke="#e5d4a0" stroke-width="1.25"/>
<line x1="481.3" y1="347.68" x2="481.3" y2="369.92" stroke="#e5d4a0" stroke-width="1.25"/>
<line x1="481.3" y1="348.30" x2="490.5" y2="348.30" stroke="#e5d4a0" stroke-width="1.25"/>
<line x1="488.8" y1="356.50" x2="491.5" y2="356.50" stroke="#e5d4a0" stroke-width="1.25"/>
<line x1="488.8" y1="355.88" x2="488.8" y2="382.62" stroke="#e5d4a0" stroke-width="1.25"/>
<line x1="481.3" y1="369.30" x2="496.5" y2="369.30" stroke="#e5d4a0" stroke-width="1.25"/>
<line x1="496.5" y1="363.78" x2="496.5" y2="375.02" stroke="#e5d4a0" stroke-width="1.25"/>
<line x1="496.5" y1="364.40" x2="499.0" y2="364.40" stroke="#e5d4a0" stroke-width="1.25"/>
<line x1="496.5" y1="374.40" x2="502.0" y2="374.40" stroke="#e5d4a0" stroke-width="1.25"/>
<line x1="490.1" y1="368.88" x2="490.1" y2="395.62" stroke="#e5d4a0" stroke-width="1.25"/>
<line x1="490.1" y1="389.00" x2="492.0" y2="389.00" stroke="#e5d4a0" stroke-width="1.25"/>
<line x1="490.1" y1="397.50" x2="503.0" y2="397.50" stroke="#e5d4a0" stroke-width="1.25"/>
<line x1="492.0" y1="394.38" x2="492.0" y2="410.62" stroke="#e5d4a0" stroke-width="1.25"/>
<line x1="492.0" y1="407.80" x2="493.0" y2="407.80" stroke="#e5d4a0" stroke-width="1.25"/>
<circle cx="376.0" cy="39.0" r="3.2" fill="#b5dbd0" fill-opacity="0.6" stroke="#d8d8d8" stroke-opacity="0.6" stroke-width="0.5"/>
<circle cx="379.0" cy="64.2" r="3.2" fill="#b5dbd0" fill-opacity="0.6" stroke="#d8d8d8" stroke-opacity="0.6" stroke-width="0.5"/>
<circle cx="384.5" cy="74.4" r="3.2" fill="#b5dbd0" fill-opacity="0.6" stroke="#d8d8d8" stroke-opacity="0.6" stroke-width="0.5"/>
<circle cx="394.7" cy="116.4" r="3.2" fill="#b5dbd0" fill-opacity="0.6" stroke="#d8d8d8" stroke-opacity="0.6" stroke-width="0.5"/>
<circle cx="456.4" cy="166.7" r="3.2" fill="#e5d4a0" fill-opacity="0.6" stroke="#d8d8d8" stroke-opacity="0.6" stroke-width="0.5"/>
<circle cx="479.2" cy="106.8" r="3.2" fill="#e5d4a0" fill-opacity="0.6" stroke="#d8d8d8" stroke-opacity="0.6" stroke-width="0.5"/>
<circle cx="486.2" cy="81.1" r="3.2" fill="#e5d4a0" fill-opacity="0.6" stroke="#d8d8d8" stroke-opacity="0.6" stroke-width="0.5"/>
<circle cx="492.8" cy="75.0" r="3.2" fill="#e5d4a0" fill-opacity="0.6" stroke="#d8d8d8" stroke-opacity="0.6" stroke-width="0.5"/>
<circle cx="625.3" cy="89.6" r="3.2" fill="#b99a76" fill-opacity="0.6" stroke="#d8d8d8" stroke-opacity="0.6" stroke-width="0.5"/>
<circle cx="608.2" cy="132.0" r="3.2" fill="#7ea898" fill-opacity="0.6" stroke="#d8d8d8" stroke-opacity="0.6" stroke-width="0.5"/>
<circle cx="612.2" cy="112.5" r="3.2" fill="#7ea898" fill-opacity="0.6" stroke="#d8d8d8" stroke-opacity="0.6" stroke-width="0.5"/>
<circle cx="613.6" cy="151.5" r="3.2" fill="#7ea898" fill-opacity="0.6" stroke="#d8d8d8" stroke-opacity="0.6" stroke-width="0.5"/>
<circle cx="622.1" cy="151.0" r="3.2" fill="#7ea898" fill-opacity="0.6" stroke="#d8d8d8" stroke-opacity="0.6" stroke-width="0.5"/>
<circle cx="460.8" cy="226.8" r="3.2" fill="#e5d4a0" fill-opacity="0.6" stroke="#d8d8d8" stroke-opacity="0.6" stroke-width="0.5"/>
<circle cx="479.0" cy="188.8" r="3.2" fill="#e5d4a0" fill-opacity="0.6" stroke="#d8d8d8" stroke-opacity="0.6" stroke-width="0.5"/>
<circle cx="502.0" cy="209.4" r="3.2" fill="#e5d4a0" fill-opacity="0.6" stroke="#d8d8d8" stroke-opacity="0.6" stroke-width="0.5"/>
<circle cx="502.0" cy="200.4" r="3.2" fill="#e5d4a0" fill-opacity="0.6" stroke="#d8d8d8" stroke-opacity="0.6" stroke-width="0.5"/>
<circle cx="515.8" cy="255.7" r="3.2" fill="#dedede" fill-opacity="0.6" stroke="#d8d8d8" stroke-opacity="0.6" stroke-width="0.5"/>
<circle cx="518.5" cy="262.0" r="3.2" fill="#dedede" fill-opacity="0.6" stroke="#d8d8d8" stroke-opacity="0.6" stroke-width="0.5"/>
<circle cx="481.0" cy="282.5" r="3.2" fill="#e5d4a0" fill-opacity="0.6" stroke="#d8d8d8" stroke-opacity="0.6" stroke-width="0.5"/>
<circle cx="489.0" cy="369.3" r="3.2" fill="#e5d4a0" fill-opacity="0.6" stroke="#d8d8d8" stroke-opacity="0.6" stroke-width="0.5"/>
<circle cx="489.5" cy="376.0" r="3.2" fill="#e5d4a0" fill-opacity="0.6" stroke="#d8d8d8" stroke-opacity="0.6" stroke-width="0.5"/>
<circle cx="490.0" cy="383.0" r="3.2" fill="#e5d4a0" fill-opacity="0.6" stroke="#d8d8d8" stroke-opacity="0.6" stroke-width="0.5"/>
<circle cx="491.5" cy="397.5" r="3.2" fill="#e5d4a0" fill-opacity="0.6" stroke="#d8d8d8" stroke-opacity="0.6" stroke-width="0.5"/>
<circle cx="494.1" cy="70.6" r="2.3" fill="#efe2a6" stroke="#000" stroke-width="0.8"/>
<circle cx="496.6" cy="74.8" r="2.3" fill="#efe2a6" stroke="#000" stroke-width="0.8"/>
<circle cx="496.6" cy="79.1" r="2.3" fill="#efe2a6" stroke="#000" stroke-width="0.8"/>
<circle cx="633.9" cy="83.0" r="2.3" fill="#c6a070" stroke="#000" stroke-width="0.8"/>
<circle cx="633.9" cy="87.1" r="2.3" fill="#c6a070" stroke="#000" stroke-width="0.8"/>
<circle cx="633.9" cy="91.3" r="2.3" fill="#c6a070" stroke="#000" stroke-width="0.8"/>
<circle cx="633.9" cy="95.4" r="2.3" fill="#c6a070" stroke="#000" stroke-width="0.8"/>
<circle cx="633.9" cy="99.5" r="2.3" fill="#c6a070" stroke="#000" stroke-width="0.8"/>
<circle cx="618.7" cy="103.2" r="2.3" fill="#83b5a3" stroke="#000" stroke-width="0.8"/>
<circle cx="618.7" cy="107.4" r="2.3" fill="#83b5a3" stroke="#000" stroke-width="0.8"/>
<circle cx="618.7" cy="111.6" r="2.3" fill="#83b5a3" stroke="#000" stroke-width="0.8"/>
<circle cx="618.7" cy="115.8" r="2.3" fill="#83b5a3" stroke="#000" stroke-width="0.8"/>
<circle cx="618.7" cy="120.0" r="2.3" fill="#83b5a3" stroke="#000" stroke-width="0.8"/>
<circle cx="618.7" cy="124.2" r="2.3" fill="#83b5a3" stroke="#000" stroke-width="0.8"/>
<circle cx="618.7" cy="128.4" r="2.3" fill="#83b5a3" stroke="#000" stroke-width="0.8"/>
<circle cx="628.4" cy="132.3" r="2.3" fill="#83b5a3" stroke="#000" stroke-width="0.8"/>
<circle cx="618.6" cy="136.5" r="2.3" fill="#83b5a3" stroke="#000" stroke-width="0.8"/>
<circle cx="625.4" cy="140.6" r="2.3" fill="#83b5a3" stroke="#000" stroke-width="0.8"/>
<circle cx="624.7" cy="144.6" r="2.3" fill="#83b5a3" stroke="#000" stroke-width="0.8"/>
<circle cx="627.3" cy="148.4" r="2.3" fill="#83b5a3" stroke="#000" stroke-width="0.8"/>
<circle cx="627.3" cy="152.7" r="2.3" fill="#83b5a3" stroke="#000" stroke-width="0.8"/>
<circle cx="626.5" cy="156.9" r="2.3" fill="#83b5a3" stroke="#000" stroke-width="0.8"/>
<circle cx="620.3" cy="161.0" r="2.3" fill="#83b5a3" stroke="#000" stroke-width="0.8"/>
<circle cx="619.9" cy="165.3" r="2.3" fill="#83b5a3" stroke="#000" stroke-width="0.8"/>
<circle cx="625.0" cy="169.5" r="2.3" fill="#83b5a3" stroke="#000" stroke-width="0.8"/>
<circle cx="627.6" cy="173.5" r="2.3" fill="#83b5a3" stroke="#000" stroke-width="0.8"/>
<circle cx="630.6" cy="177.6" r="2.3" fill="#83b5a3" stroke="#000" stroke-width="0.8"/>
<circle cx="625.0" cy="181.9" r="2.3" fill="#83b5a3" stroke="#000" stroke-width="0.8"/>
<circle cx="483.4" cy="185.4" r="2.3" fill="#efe2a6" stroke="#000" stroke-width="0.8"/>
<circle cx="483.4" cy="189.8" r="2.3" fill="#efe2a6" stroke="#000" stroke-width="0.8"/>
<circle cx="483.4" cy="194.3" r="2.3" fill="#efe2a6" stroke="#000" stroke-width="0.8"/>
<circle cx="504.9" cy="197.6" r="2.3" fill="#efe2a6" stroke="#000" stroke-width="0.8"/>
<circle cx="504.9" cy="201.8" r="2.3" fill="#efe2a6" stroke="#000" stroke-width="0.8"/>
<circle cx="504.9" cy="206.0" r="2.3" fill="#efe2a6" stroke="#000" stroke-width="0.8"/>
<circle cx="504.9" cy="210.2" r="2.3" fill="#efe2a6" stroke="#000" stroke-width="0.8"/>
<circle cx="504.9" cy="214.4" r="2.3" fill="#efe2a6" stroke="#000" stroke-width="0.8"/>
<circle cx="483.4" cy="218.3" r="2.3" fill="#efe2a6" stroke="#000" stroke-width="0.8"/>
<circle cx="483.4" cy="222.6" r="2.3" fill="#efe2a6" stroke="#000" stroke-width="0.8"/>
<circle cx="483.4" cy="227.0" r="2.3" fill="#efe2a6" stroke="#000" stroke-width="0.8"/>
<circle cx="483.4" cy="231.2" r="2.3" fill="#efe2a6" stroke="#000" stroke-width="0.8"/>
<circle cx="483.4" cy="235.4" r="2.3" fill="#efe2a6" stroke="#000" stroke-width="0.8"/>
<circle cx="492.3" cy="239.4" r="2.3" fill="#efe2a6" stroke="#000" stroke-width="0.8"/>
<circle cx="492.3" cy="243.8" r="2.3" fill="#efe2a6" stroke="#000" stroke-width="0.8"/>
<circle cx="524.6" cy="247.3" r="2.3" fill="#f4f4f4" stroke="#000" stroke-width="0.8"/>
<circle cx="524.6" cy="251.5" r="2.3" fill="#f4f4f4" stroke="#000" stroke-width="0.8"/>
<circle cx="524.6" cy="255.7" r="2.3" fill="#f4f4f4" stroke="#000" stroke-width="0.8"/>
<circle cx="524.6" cy="259.9" r="2.3" fill="#f4f4f4" stroke="#000" stroke-width="0.8"/>
<circle cx="524.6" cy="264.1" r="2.3" fill="#f4f4f4" stroke="#000" stroke-width="0.8"/>
<circle cx="524.6" cy="268.3" r="2.3" fill="#f4f4f4" stroke="#000" stroke-width="0.8"/>
<circle cx="475.6" cy="272.0" r="2.3" fill="#efe2a6" stroke="#000" stroke-width="0.8"/>
<circle cx="475.6" cy="276.3" r="2.3" fill="#efe2a6" stroke="#000" stroke-width="0.8"/>
<circle cx="483.5" cy="280.4" r="2.3" fill="#efe2a6" stroke="#000" stroke-width="0.8"/>
<circle cx="483.5" cy="284.5" r="2.3" fill="#efe2a6" stroke="#000" stroke-width="0.8"/>
<circle cx="483.5" cy="288.6" r="2.3" fill="#efe2a6" stroke="#000" stroke-width="0.8"/>
<circle cx="483.5" cy="292.6" r="2.3" fill="#efe2a6" stroke="#000" stroke-width="0.8"/>
<circle cx="483.5" cy="296.8" r="2.3" fill="#efe2a6" stroke="#000" stroke-width="0.8"/>
<circle cx="483.5" cy="300.9" r="2.3" fill="#efe2a6" stroke="#000" stroke-width="0.8"/>
<circle cx="483.5" cy="305.1" r="2.3" fill="#efe2a6" stroke="#000" stroke-width="0.8"/>
<circle cx="483.5" cy="309.3" r="2.3" fill="#efe2a6" stroke="#000" stroke-width="0.8"/>
<circle cx="483.5" cy="313.5" r="2.3" fill="#efe2a6" stroke="#000" stroke-width="0.8"/>
<circle cx="483.5" cy="317.7" r="2.3" fill="#efe2a6" stroke="#000" stroke-width="0.8"/>
<circle cx="475.6" cy="321.0" r="2.3" fill="#efe2a6" stroke="#000" stroke-width="0.8"/>
<circle cx="475.6" cy="325.2" r="2.3" fill="#efe2a6" stroke="#000" stroke-width="0.8"/>
<circle cx="475.6" cy="329.4" r="2.3" fill="#efe2a6" stroke="#000" stroke-width="0.8"/>
<circle cx="475.6" cy="333.5" r="2.3" fill="#efe2a6" stroke="#000" stroke-width="0.8"/>
<circle cx="475.6" cy="337.7" r="2.3" fill="#efe2a6" stroke="#000" stroke-width="0.8"/>
<circle cx="475.6" cy="342.0" r="2.3" fill="#efe2a6" stroke="#000" stroke-width="0.8"/>
<circle cx="494.0" cy="346.1" r="2.3" fill="#efe2a6" stroke="#000" stroke-width="0.8"/>
<circle cx="494.0" cy="350.3" r="2.3" fill="#efe2a6" stroke="#000" stroke-width="0.8"/>
<circle cx="494.0" cy="354.5" r="2.3" fill="#efe2a6" stroke="#000" stroke-width="0.8"/>
<circle cx="494.0" cy="358.6" r="2.3" fill="#efe2a6" stroke="#000" stroke-width="0.8"/>
<circle cx="500.9" cy="362.4" r="2.3" fill="#efe2a6" stroke="#000" stroke-width="0.8"/>
<circle cx="500.9" cy="366.5" r="2.3" fill="#efe2a6" stroke="#000" stroke-width="0.8"/>
<circle cx="500.9" cy="370.6" r="2.3" fill="#efe2a6" stroke="#000" stroke-width="0.8"/>
<circle cx="504.1" cy="374.9" r="2.3" fill="#efe2a6" stroke="#000" stroke-width="0.8"/>
<circle cx="504.1" cy="379.1" r="2.3" fill="#efe2a6" stroke="#000" stroke-width="0.8"/>
<circle cx="504.1" cy="383.2" r="2.3" fill="#efe2a6" stroke="#000" stroke-width="0.8"/>
<circle cx="494.0" cy="387.2" r="2.3" fill="#efe2a6" stroke="#000" stroke-width="0.8"/>
<circle cx="494.0" cy="391.3" r="2.3" fill="#efe2a6" stroke="#000" stroke-width="0.8"/>
<circle cx="505.1" cy="395.5" r="2.3" fill="#efe2a6" stroke="#000" stroke-width="0.8"/>
<circle cx="505.1" cy="399.5" r="2.3" fill="#efe2a6" stroke="#000" stroke-width="0.8"/>
<circle cx="495.0" cy="403.4" r="2.3" fill="#efe2a6" stroke="#000" stroke-width="0.8"/>
<circle cx="495.0" cy="407.8" r="2.3" fill="#efe2a6" stroke="#000" stroke-width="0.8"/>
<circle cx="495.0" cy="412.2" r="2.3" fill="#efe2a6" stroke="#000" stroke-width="0.8"/>
<circle cx="421.4" cy="54.2" r="2.3" fill="#bfe2d8" stroke="#000" stroke-width="0.8"/>
<circle cx="401.4" cy="58.2" r="2.3" fill="#bfe2d8" stroke="#000" stroke-width="0.8"/>
<circle cx="401.0" cy="62.4" r="2.3" fill="#bfe2d8" stroke="#000" stroke-width="0.8"/>
<circle cx="418.6" cy="66.5" r="2.3" fill="#bfe2d8" stroke="#000" stroke-width="0.8"/>
</g>
</g>
<text transform="translate(125.7,44.8) scale(1,1.05)" class="clade">South America + Falklands/Malvinas</text>
<text transform="translate(463.7,44.3) scale(1,1.05)" class="clade">South America + Falklands/Malvinas</text>
<circle cx="215.5" cy="273.6" r="2.15" fill="#9a9a9a" stroke="#111" stroke-width="0.6"/>
<text transform="translate(226.0,276.90) scale(1,1.05)" class="lg">Antarctic Fur Seal</text>
<circle cx="215.5" cy="284.5" r="2.15" fill="#cc79a7" stroke="#111" stroke-width="0.6"/>
<text transform="translate(226.0,287.83) scale(1,1.05)" class="lg">Antarctic Tern</text>
<circle cx="215.5" cy="295.5" r="2.15" fill="#009e73" stroke="#111" stroke-width="0.6"/>
<text transform="translate(226.0,298.76) scale(1,1.05)" class="lg">Brown Skua</text>
<circle cx="215.5" cy="306.4" r="2.15" fill="#56b4e9" stroke="#111" stroke-width="0.6"/>
<text transform="translate(226.0,309.69) scale(1,1.05)" class="lg">Cape Petrel</text>
<circle cx="215.5" cy="317.3" r="2.15" fill="#0072b2" stroke="#111" stroke-width="0.6"/>
<text transform="translate(226.0,320.62) scale(1,1.05)" class="lg">Kelp Gull</text>
<circle cx="215.5" cy="328.2" r="2.15" fill="#e69f00" stroke="#111" stroke-width="0.6"/>
<text transform="translate(226.0,331.55) scale(1,1.05)" class="lg">King Penguin</text>
<circle cx="215.5" cy="339.2" r="2.15" fill="#d55e00" stroke="#111" stroke-width="0.6"/>
<text transform="translate(226.0,342.48) scale(1,1.05)" class="lg">South Georgia Shag</text>
<circle cx="215.5" cy="350.1" r="2.15" fill="#f0e442" stroke="#111" stroke-width="0.6"/>
<text transform="translate(226.0,353.41) scale(1,1.05)" class="lg">South Polar Skua</text>
<circle cx="215.5" cy="361.0" r="2.15" fill="#000000" stroke="#111" stroke-width="0.6"/>
<text transform="translate(226.0,364.34) scale(1,1.05)" class="lg">Southern Elephant Seal</text>
<line x1="546" y1="273.4" x2="556.5" y2="273.4" stroke="#dedede" stroke-width="1.1"/>
<circle cx="551.2" cy="273.4" r="2.3" fill="#f4f4f4" stroke="#111" stroke-width="0.7"/>
<text transform="translate(562,276.60) scale(1,1.05)" class="lg">Antarctica</text>
<line x1="546" y1="284.2" x2="556.5" y2="284.2" stroke="#b5dbd0" stroke-width="1.1"/>
<circle cx="551.2" cy="284.2" r="2.3" fill="#bfe2d8" stroke="#111" stroke-width="0.7"/>
<text transform="translate(562,287.40) scale(1,1.05)" class="lg">Argentina</text>
<line x1="546" y1="295.0" x2="556.5" y2="295.0" stroke="#7ea898" stroke-width="1.1"/>
<circle cx="551.2" cy="295.0" r="2.3" fill="#83b5a3" stroke="#111" stroke-width="0.7"/>
<text transform="translate(562,298.20) scale(1,1.05)" class="lg">Crozet</text>
<line x1="546" y1="305.8" x2="556.5" y2="305.8" stroke="#b99a76" stroke-width="1.1"/>
<circle cx="551.2" cy="305.8" r="2.3" fill="#c6a070" stroke="#111" stroke-width="0.7"/>
<text transform="translate(562,309.00) scale(1,1.05)" class="lg">Kerguelen</text>
<line x1="546" y1="316.6" x2="556.5" y2="316.6" stroke="#e5d4a0" stroke-width="1.1"/>
<circle cx="551.2" cy="316.6" r="2.3" fill="#efe2a6" stroke="#111" stroke-width="0.7"/>
<text transform="translate(562,319.80) scale(1,1.05)" class="lg">South Georgia/Sandwich</text>
<line x1="8.7" y1="433" x2="341.9" y2="433" stroke="#111" stroke-width="1.6"/>
<line x1="43.7" y1="433" x2="43.7" y2="435.6" stroke="#222" stroke-width="1.0"/>
<text x="43.7" y="443.8" class="ax">Jan</text>
<text x="43.7" y="453.3" class="ax">2023</text>
<line x1="86.8" y1="433" x2="86.8" y2="435.6" stroke="#222" stroke-width="1.0"/>
<text x="86.8" y="443.8" class="ax">May</text>
<text x="86.8" y="453.3" class="ax">2023</text>
<line x1="131.1" y1="433" x2="131.1" y2="435.6" stroke="#222" stroke-width="1.0"/>
<text x="131.1" y="443.8" class="ax">Sep</text>
<text x="131.1" y="453.3" class="ax">2023</text>
<line x1="174.9" y1="433" x2="174.9" y2="435.6" stroke="#222" stroke-width="1.0"/>
<text x="174.9" y="443.8" class="ax">Jan</text>
<text x="174.9" y="453.3" class="ax">2024</text>
<line x1="218.4" y1="433" x2="218.4" y2="435.6" stroke="#222" stroke-width="1.0"/>
<text x="218.4" y="443.8" class="ax">May</text>
<text x="218.4" y="453.3" class="ax">2024</text>
<line x1="262.6" y1="433" x2="262.6" y2="435.6" stroke="#222" stroke-width="1.0"/>
<text x="262.6" y="443.8" class="ax">Sep</text>
<text x="262.6" y="453.3" class="ax">2024</text>
<line x1="306.5" y1="433" x2="306.5" y2="435.6" stroke="#222" stroke-width="1.0"/>
<text x="306.5" y="443.8" class="ax">Jan</text>
<text x="306.5" y="453.3" class="ax">2025</text>
<line x1="346.9" y1="433" x2="680.0" y2="433" stroke="#111" stroke-width="1.6"/>
<line x1="381.7" y1="433" x2="381.7" y2="435.6" stroke="#222" stroke-width="1.0"/>
<text x="381.7" y="443.8" class="ax">Jan</text>
<text x="381.7" y="453.3" class="ax">2023</text>
<line x1="424.8" y1="433" x2="424.8" y2="435.6" stroke="#222" stroke-width="1.0"/>
<text x="424.8" y="443.8" class="ax">May</text>
<text x="424.8" y="453.3" class="ax">2023</text>
<line x1="469.1" y1="433" x2="469.1" y2="435.6" stroke="#222" stroke-width="1.0"/>
<text x="469.1" y="443.8" class="ax">Sep</text>
<text x="469.1" y="453.3" class="ax">2023</text>
<line x1="512.9" y1="433" x2="512.9" y2="435.6" stroke="#222" stroke-width="1.0"/>
<text x="512.9" y="443.8" class="ax">Jan</text>
<text x="512.9" y="453.3" class="ax">2024</text>
<line x1="556.4" y1="433" x2="556.4" y2="435.6" stroke="#222" stroke-width="1.0"/>
<text x="556.4" y="443.8" class="ax">May</text>
<text x="556.4" y="453.3" class="ax">2024</text>
<line x1="600.6" y1="433" x2="600.6" y2="435.6" stroke="#222" stroke-width="1.0"/>
<text x="600.6" y="443.8" class="ax">Sep</text>
<text x="600.6" y="453.3" class="ax">2024</text>
<line x1="644.5" y1="433" x2="644.5" y2="435.6" stroke="#222" stroke-width="1.0"/>
<text x="644.5" y="443.8" class="ax">Jan</text>
<text x="644.5" y="453.3" class="ax">2025</text>
<path d="M95.0,513.7 C336.5,513.7 336.5,513.0 578.0,513.0 L578.0,516.6 C336.5,516.6 336.5,517.4 95.0,517.4 Z" fill="#4a6a8c" fill-opacity="0.3"/>
<path d="M95.0,556.1 C336.5,556.1 336.5,516.6 578.0,516.6 L578.0,518.5 C336.5,518.5 336.5,558.1 95.0,558.1 Z" fill="#bfd6cc" fill-opacity="0.3"/>
<path d="M95.0,558.1 C336.5,558.1 336.5,530.3 578.0,530.3 L578.0,538.6 C336.5,538.6 336.5,566.4 95.0,566.4 Z" fill="#bfd6cc" fill-opacity="0.3"/>
<path d="M95.0,566.4 C336.5,566.4 336.5,550.6 578.0,550.6 L578.0,551.9 C336.5,551.9 336.5,567.7 95.0,567.7 Z" fill="#bfd6cc" fill-opacity="0.3"/>
<path d="M95.0,567.7 C336.5,567.7 336.5,563.9 578.0,563.9 L578.0,565.2 C336.5,565.2 336.5,569.0 95.0,569.0 Z" fill="#bfd6cc" fill-opacity="0.3"/>
<path d="M95.0,569.0 C336.5,569.0 336.5,577.0 578.0,577.0 L578.0,578.4 C336.5,578.4 336.5,570.4 95.0,570.4 Z" fill="#bfd6cc" fill-opacity="0.3"/>
<path d="M95.0,570.4 C336.5,570.4 336.5,590.3 578.0,590.3 L578.0,603.9 C336.5,603.9 336.5,583.6 95.0,583.6 Z" fill="#bfd6cc" fill-opacity="0.3"/>
<path d="M95.0,604.3 C336.5,604.3 336.5,603.9 578.0,603.9 L578.0,610.8 C336.5,610.8 336.5,611.2 95.0,611.2 Z" fill="#5a7a98" fill-opacity="0.3"/>
<path d="M95.0,611.2 C336.5,611.2 336.5,622.8 578.0,622.8 L578.0,624.1 C336.5,624.1 336.5,612.6 95.0,612.6 Z" fill="#5a7a98" fill-opacity="0.3"/>
<path d="M95.0,612.6 C336.5,612.6 336.5,651.8 578.0,651.8 L578.0,653.1 C336.5,653.1 336.5,614.0 95.0,614.0 Z" fill="#5a7a98" fill-opacity="0.3"/>
<path d="M95.0,636.0 C336.5,636.0 336.5,636.2 578.0,636.2 L578.0,639.7 C336.5,639.7 336.5,640.2 95.0,640.2 Z" fill="#7a68a8" fill-opacity="0.3"/>
<path d="M95.0,664.2 C336.5,664.2 336.5,653.1 578.0,653.1 L578.0,654.3 C336.5,654.3 336.5,665.4 95.0,665.4 Z" fill="#8fb0c8" fill-opacity="0.3"/>
<path d="M95.0,665.4 C336.5,665.4 336.5,666.5 578.0,666.5 L578.0,677.0 C336.5,677.0 336.5,676.2 95.0,676.2 Z" fill="#8fb0c8" fill-opacity="0.3"/>
<path d="M95.0,690.0 C336.5,690.0 336.5,690.3 578.0,690.3 L578.0,691.6 C336.5,691.6 336.5,691.4 95.0,691.4 Z" fill="#8a6070" fill-opacity="0.3"/>
<path d="M95.0,715.4 C336.5,715.4 336.5,703.1 578.0,703.1 L578.0,704.3 C336.5,704.3 336.5,716.6 95.0,716.6 Z" fill="#dcd29a" fill-opacity="0.3"/>
<path d="M95.0,716.6 C336.5,716.6 336.5,716.4 578.0,716.4 L578.0,717.6 C336.5,717.6 336.5,717.8 95.0,717.8 Z" fill="#dcd29a" fill-opacity="0.3"/>
<path d="M95.0,717.8 C336.5,717.8 336.5,729.4 578.0,729.4 L578.0,730.6 C336.5,730.6 336.5,718.9 95.0,718.9 Z" fill="#dcd29a" fill-opacity="0.3"/>
<path d="M95.0,741.6 C336.5,741.6 336.5,677.0 578.0,677.0 L578.0,678.0 C336.5,678.0 336.5,742.6 95.0,742.6 Z" fill="#6e5f96" fill-opacity="0.3"/>
<path d="M95.0,742.6 C336.5,742.6 336.5,742.9 578.0,742.9 L578.0,782.4 C336.5,782.4 336.5,782.0 95.0,782.0 Z" fill="#6e5f96" fill-opacity="0.3"/>
<path d="M95.0,782.0 C336.5,782.0 336.5,794.4 578.0,794.4 L578.0,797.7 C336.5,797.7 336.5,785.5 95.0,785.5 Z" fill="#6e5f96" fill-opacity="0.3"/>
<path d="M95.0,785.5 C336.5,785.5 336.5,809.4 578.0,809.4 L578.0,811.0 C336.5,811.0 336.5,786.8 95.0,786.8 Z" fill="#6e5f96" fill-opacity="0.3"/>
<rect x="78.2" y="513.7" width="16.8" height="3.7" fill="#4a6a8c" stroke="#444" stroke-width="0.6"/>
<text x="74.2" y="519.5" class="sk" text-anchor="end">Uruguay</text>
<rect x="78.2" y="556.1" width="16.8" height="27.5" fill="#bfd6cc" stroke="#444" stroke-width="0.6"/>
<text x="74.2" y="573.9" class="sk" text-anchor="end">Argentina</text>
<rect x="78.2" y="604.3" width="16.8" height="9.7" fill="#5a7a98" stroke="#444" stroke-width="0.6"/>
<text x="74.2" y="613.1" class="sk" text-anchor="end">Peru</text>
<rect x="78.2" y="636.0" width="16.8" height="4.2" fill="#7a68a8" stroke="#444" stroke-width="0.6"/>
<text x="74.2" y="642.1" class="sk" text-anchor="end">Canada</text>
<rect x="78.2" y="664.2" width="16.8" height="12.0" fill="#8fb0c8" stroke="#444" stroke-width="0.6"/>
<text x="74.2" y="674.2" class="sk" text-anchor="end">Chile</text>
<rect x="78.2" y="690.2" width="16.8" height="1.4" fill="#9a6070" stroke="#444" stroke-width="0.6"/>
<text x="74.2" y="694.9" class="sk" text-anchor="end">Costa Rica</text>
<rect x="78.2" y="715.4" width="16.8" height="3.5" fill="#dcd29a" stroke="#444" stroke-width="0.6"/>
<text x="74.2" y="721.1" class="sk" text-anchor="end">South Georgia</text>
<rect x="78.2" y="741.6" width="16.8" height="45.2" fill="#726897" stroke="#444" stroke-width="0.6"/>
<text x="74.2" y="768.2" class="sk" text-anchor="end">USA</text>
<rect x="578.0" y="512.9" width="16.7" height="5.6" fill="#a7c3d8" stroke="#444" stroke-width="0.6"/>
<text x="598.4" y="519.7" class="sk">Brazil</text>
<rect x="578.0" y="530.3" width="16.7" height="8.3" fill="#4b6a8a" stroke="#444" stroke-width="0.6"/>
<text x="598.4" y="538.5" class="sk">Uruguay</text>
<rect x="578.0" y="550.6" width="16.7" height="1.3" fill="#9a9a9a" stroke="#444" stroke-width="0.6"/>
<text x="598.4" y="555.2" class="sk">Bolivia</text>
<rect x="578.0" y="563.9" width="16.7" height="1.3" fill="#6a88a8" stroke="#444" stroke-width="0.6"/>
<text x="598.4" y="568.5" class="sk">Falkland/Malvinas</text>
<rect x="578.0" y="577.0" width="16.7" height="1.4" fill="#8a7a50" stroke="#444" stroke-width="0.6"/>
<text x="598.4" y="581.7" class="sk">South Georgia</text>
<rect x="578.0" y="590.3" width="16.7" height="20.5" fill="#90b3cc" stroke="#444" stroke-width="0.6"/>
<text x="598.4" y="604.5" class="sk">Chile</text>
<rect x="578.0" y="622.8" width="16.7" height="1.3" fill="#4a6480" stroke="#444" stroke-width="0.6"/>
<text x="598.4" y="627.5" class="sk">Ecuador</text>
<rect x="578.0" y="636.2" width="16.7" height="3.5" fill="#6a5f96" stroke="#444" stroke-width="0.6"/>
<text x="598.4" y="642.0" class="sk">USA</text>
<rect x="578.0" y="651.8" width="16.7" height="2.5" fill="#b8d4c8" stroke="#444" stroke-width="0.6"/>
<text x="598.4" y="657.0" class="sk">Argentina</text>
<rect x="578.0" y="666.5" width="16.7" height="11.5" fill="#5a7898" stroke="#444" stroke-width="0.6"/>
<text x="598.4" y="676.2" class="sk">Peru</text>
<rect x="578.0" y="690.4" width="16.7" height="1.3" fill="#7a4858" stroke="#444" stroke-width="0.6"/>
<text x="598.4" y="695.0" class="sk">Panama</text>
<rect x="578.0" y="703.1" width="16.7" height="1.2" fill="#b0b8b8" stroke="#444" stroke-width="0.6"/>
<text x="598.4" y="707.7" class="sk">Antarctica</text>
<rect x="578.0" y="716.4" width="16.7" height="1.2" fill="#6a8a7a" stroke="#444" stroke-width="0.6"/>
<text x="598.4" y="721.0" class="sk">Crozet</text>
<rect x="578.0" y="729.4" width="16.7" height="1.2" fill="#7a6040" stroke="#444" stroke-width="0.6"/>
<text x="598.4" y="734.0" class="sk">Kerguelen</text>
<rect x="578.0" y="742.9" width="16.7" height="39.5" fill="#8474aa" stroke="#444" stroke-width="0.6"/>
<text x="598.4" y="766.6" class="sk">Canada</text>
<rect x="578.0" y="794.4" width="16.7" height="3.3" fill="#80a8c8" stroke="#444" stroke-width="0.6"/>
<text x="598.4" y="800.0" class="sk">Colombia</text>
<rect x="578.0" y="809.4" width="16.7" height="1.6" fill="#986068" stroke="#444" stroke-width="0.6"/>
<text x="598.4" y="814.2" class="sk">Costa Rica</text>
</svg>
</body></html>
